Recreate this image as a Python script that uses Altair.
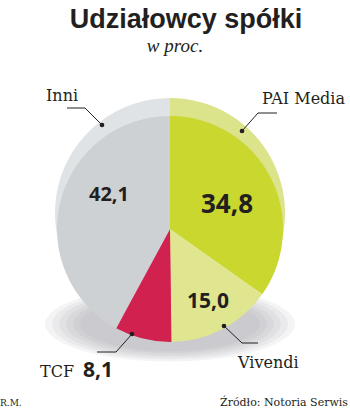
import math
import altair as alt
import pandas as pd

# ---- data ----
categories = ["PAI Media", "Vivendi", "TCF", "Inni"]
shares = [34.8, 15.0, 8.1, 42.1]
value_texts = ["34,8", "15,0", "8,1", "42,1"]

# ---- styles / layout ----
main_colors = ["#c9d72f", "#dfe68f", "#d1214f", "#cdd1d4"]
back_colors = ["#dbe38b", "#e7ecb4", "#e27395", "#e0e3e5"]
W, H = 350, 409
CX, CY, R = 170, 229, 113
BCX, BCY, BR = 170, 213, 115

df = pd.DataFrame({
    "cat": categories,
    "share": shares,
    "ord": list(range(len(categories))),
    "main_col": main_colors,
    "back_col": back_colors,
})

NUM_FONT = "Open Sans"
SLAB = "DejaVu Serif"
INK = "#231f20"


def pos():
    return dict(x=alt.X("x:Q", scale=None), y=alt.Y("y:Q", scale=None))


def pie(cx, cy, r, colfield):
    return alt.Chart(df).mark_arc(outerRadius=r, strokeWidth=0).encode(
        theta=alt.Theta("share:Q", stack=True),
        order=alt.Order("ord:Q"),
        color=alt.Color(f"{colfield}:N", scale=None),
        x=alt.value(cx),
        y=alt.value(cy),
    )


# soft shadow under the pie (stacked translucent ellipses, polygon path shape)
pts = []
for k in range(48):
    a = 2 * math.pi * k / 48
    pts.append(f"{math.cos(a):.4f},{0.3 * math.sin(a):.4f}")
ELLIPSE = "M" + " L".join(pts) + " Z"
shadow_rows = [{"x": 170, "y": 324, "s": (250 - 14 * k) ** 2} for k in range(6)]
shadow = alt.Chart(pd.DataFrame(shadow_rows)).mark_point(
    shape=ELLIPSE, filled=True, fill="#8f959b", fillOpacity=0.1, strokeOpacity=0).encode(
    **pos(), size=alt.Size("s:Q", scale=None))

back = pie(BCX, BCY, BR, "back_col")
main = pie(CX, CY, R, "main_col")

# value labels inside slices (positions are layout)
val_pos = {"PAI Media": (227, 213, 26), "Vivendi": (208, 308, 21), "Inni": (109, 201, 20)}
vdf = pd.DataFrame([
    {"t": value_texts[i], "x": val_pos[c][0], "y": val_pos[c][1], "s": val_pos[c][2]}
    for i, c in enumerate(categories) if c in val_pos
])
values = alt.Chart(vdf).mark_text(font=NUM_FONT, fontWeight="bold", color=INK,
                                  align="center", baseline="alphabetic").encode(
    **pos(), text="t:N", size=alt.Size("s:Q", scale=None))

# category labels
name_rows = [
    {"t": "Inni", "x": 46, "y": 101, "a": "left"},
    {"t": "PAI Media", "x": 345, "y": 104, "a": "right"},
    {"t": "Vivendi", "x": 238, "y": 368, "a": "left"},
    {"t": "TCF", "x": 40, "y": 377, "a": "left"},
]
names = []
for r in name_rows:
    names.append(alt.Chart(pd.DataFrame([r])).mark_text(
        font=SLAB, fontSize=16, color=INK, align=r["a"], baseline="alphabetic").encode(
        **pos(), text="t:N"))

tcf_val = alt.Chart(pd.DataFrame([{"t": value_texts[2], "x": 83, "y": 377}])).mark_text(
    font=NUM_FONT, fontWeight="bold", fontSize=21, color=INK, align="left",
    baseline="alphabetic").encode(**pos(), text="t:N")

# leader lines
lines_rows = []
leaders = {
    "Inni": [(67, 108), (85, 108), (102, 125)],
    "PAI Media": [(277, 113), (258, 113), (242, 131)],
    "Vivendi": [(258, 343), (242, 343), (224, 326)],
    "TCF": [(97, 352), (116, 352), (132, 334)],
}
for k, pts_ in leaders.items():
    for i, (x, y) in enumerate(pts_):
        lines_rows.append({"g": k, "i": i, "x": x, "y": y})
ldf = pd.DataFrame(lines_rows)
lines = alt.Chart(ldf).mark_line(color=INK, strokeWidth=1).encode(
    **pos(), detail="g:N", order="i:Q")
dots = alt.Chart(ldf[ldf["i"] == 2]).mark_circle(color=INK, size=22, opacity=1).encode(
    **pos())

# title & notes
title = alt.Chart(pd.DataFrame([{"t": "Udziałowcy spółki", "x": 186, "y": 28}])).mark_text(
    font="Liberation Sans", fontWeight="bold", fontSize=27, color=INK,
    align="center", baseline="alphabetic").encode(**pos(), text="t:N")
subtitle = alt.Chart(pd.DataFrame([{"t": "w proc.", "x": 175, "y": 52}])).mark_text(
    font="Liberation Serif", fontStyle="italic", fontSize=19, color=INK,
    align="center", baseline="alphabetic").encode(**pos(), text="t:N")
author = alt.Chart(pd.DataFrame([{"t": "R.M.", "x": 0, "y": 406}])).mark_text(
    font=SLAB, fontSize=9, color=INK, align="left", baseline="alphabetic").encode(
    **pos(), text="t:N")
source = alt.Chart(pd.DataFrame([{"t": "Źródło: Notoria Serwis", "x": 348, "y": 406}])).mark_text(
    font=SLAB, fontSize=11, color=INK, align="right", baseline="alphabetic").encode(
    **pos(), text="t:N")

chart = alt.layer(shadow, back, main, values, *names, tcf_val, lines, dots, title, subtitle,
                  author, source).properties(
    width=W, height=H, padding=0, autosize="none", background="#ffffff"
).configure_view(stroke=None)

chart.save("out.html", embed_options={"renderer": "svg", "actions": False})
